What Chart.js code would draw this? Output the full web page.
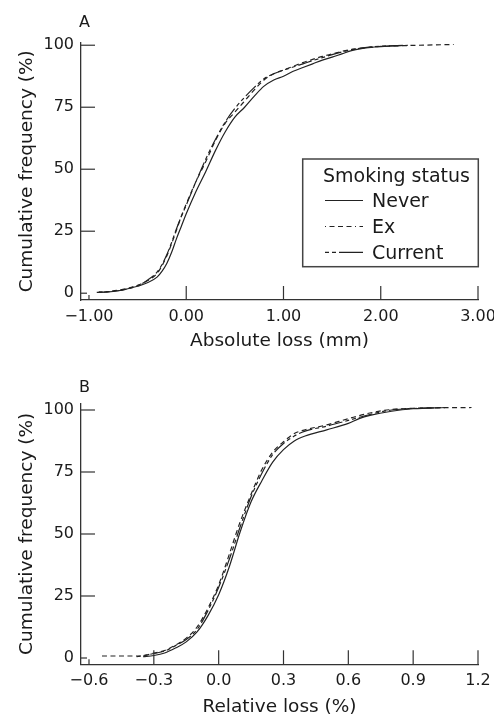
<!DOCTYPE html>
<html>
<head>
<meta charset="utf-8">
<script src="https://cdn.jsdelivr.net/npm/chart.js@4.4.0/dist/chart.umd.min.js"></script>
<style>
  html, body { margin: 0; padding: 0; background: #fff; overflow: hidden; }
  #wrap { position: relative; width: 494px; height: 716px; }
  canvas { position: absolute; left: 0; }
  #cA { top: 0; }
  #cB { top: 358px; }
</style>
</head>
<body>
<div id="wrap">
  <canvas id="cA" width="494" height="358"></canvas>
  <canvas id="cB" width="494" height="358"></canvas>
</div>
<script>
// ---------- DATA ----------
const seriesNames = ['Never', 'Ex', 'Current'];
const freqTicks = [0, 25, 50, 75, 100];
const absTicks = [-1, 0, 1, 2, 3];
const relTicks = [-0.6, -0.3, 0, 0.3, 0.6, 0.9, 1.2];

// Panel A: absolute loss (mm) vs cumulative frequency (%)
const absNeverX = [-0.92, -0.80, -0.70, -0.60, -0.50, -0.40, -0.30, -0.25, -0.20, -0.15, -0.10, -0.05, 0.00, 0.10, 0.20, 0.30, 0.40, 0.50, 0.60, 0.70, 0.80, 0.90, 1.00, 1.10, 1.20, 1.30, 1.40, 1.50, 1.60, 1.70, 1.80, 1.90, 2.00, 2.28];
const absNeverY = [0.3, 0.5, 1.0, 1.8, 2.8, 4.2, 6.5, 8.8, 12, 16.5, 22, 27, 32, 41, 49, 57.5, 65, 71, 75, 79.5, 83.5, 86, 87.5, 89.5, 91, 92.5, 94, 95.2, 96.5, 97.8, 98.6, 99.1, 99.4, 100];
const absExX = [-0.85, -0.70, -0.60, -0.50, -0.40, -0.30, -0.25, -0.20, -0.15, -0.10, -0.05, 0.00, 0.10, 0.20, 0.30, 0.40, 0.50, 0.60, 0.70, 0.80, 0.90, 1.00, 1.10, 1.20, 1.30, 1.40, 1.50, 1.60, 1.70, 1.80, 1.90, 2.00, 2.30, 2.75];
const absExY = [0.4, 1.2, 2.0, 3.2, 5.0, 8.0, 11, 15, 20, 25.5, 31, 36, 45, 53, 61.5, 68.5, 73, 77.5, 82, 86, 88.5, 90, 91.5, 93, 94.3, 95.5, 96.5, 97.5, 98.3, 98.8, 99.2, 99.5, 99.9, 100.3];
const absCurrentX = [-0.90, -0.80, -0.70, -0.60, -0.50, -0.40, -0.30, -0.25, -0.20, -0.15, -0.10, -0.05, 0.00, 0.10, 0.20, 0.30, 0.40, 0.50, 0.60, 0.70, 0.80, 0.90, 1.00, 1.10, 1.20, 1.30, 1.40, 1.50, 1.60, 1.70, 1.80, 1.90, 2.00, 2.25];
const absCurrentY = [0.5, 0.6, 1.0, 1.8, 3.0, 5.2, 8.5, 11.5, 15.5, 20.5, 26, 31, 35.5, 45, 54, 62, 69, 74.5, 79, 83, 86.5, 88.5, 90, 91.2, 92.5, 93.8, 95, 96.2, 97.3, 98.2, 98.8, 99.3, 99.6, 100];

// Panel B: relative loss (%) vs cumulative frequency (%)
const relNeverX = [-0.35, -0.30, -0.25, -0.20, -0.15, -0.10, -0.05, 0.00, 0.05, 0.10, 0.15, 0.20, 0.25, 0.30, 0.35, 0.40, 0.50, 0.60, 0.65, 0.70, 0.80, 0.90, 1.05];
const relNeverY = [0.5, 1.0, 2.0, 4.0, 6.5, 10.5, 17, 25.5, 37, 51, 63, 71.5, 79, 84, 87.5, 89.5, 92, 94.6, 96.5, 97.8, 99.5, 100.5, 101];
const relExX = [-0.54, -0.36, -0.30, -0.25, -0.20, -0.15, -0.10, -0.05, 0.00, 0.05, 0.08, 0.10, 0.15, 0.20, 0.25, 0.30, 0.35, 0.40, 0.50, 0.60, 0.70, 0.80, 0.90, 1.17];
const relExY = [0.8, 0.8, 2.0, 3.0, 5.2, 8.0, 12.5, 20, 29.5, 42, 50, 55, 66, 76, 83, 87.2, 90.5, 92, 94, 96.5, 98.8, 100.2, 100.7, 101];
const relCurrentX = [-0.38, -0.30, -0.25, -0.20, -0.15, -0.10, -0.05, 0.00, 0.05, 0.10, 0.15, 0.20, 0.25, 0.30, 0.35, 0.40, 0.50, 0.60, 0.70, 0.80, 0.90, 1.05];
const relCurrentY = [0.5, 1.8, 2.8, 5.0, 7.5, 11.5, 19, 28.5, 40, 53, 65, 74.5, 82, 86.5, 89.5, 91.5, 93.5, 95.8, 98.2, 100, 100.6, 101];

// ---------- STYLE ----------
const FONT = "'DejaVu Sans', sans-serif";
const INK = '#1a1a1a';
const AXIS = '#333';
const DASHES = { Never: [], Ex: [5, 3.5], Current: [4, 3, 4, 3, 14, 3] };
const LEGEND_DASHES = { Never: [], Ex: [1, 3.5, 5, 3.5, 5, 3.5, 5, 3.5], Current: [4, 3, 4, 3, 40, 3] };

function pts(xs, ys) { return xs.map((x, i) => ({ x: x, y: ys[i] })); }
function fmt(v, d) { return (v < 0 ? '\u2212' : '') + Math.abs(v).toFixed(d); }

function makeDatasets(list) {
  return list.map((s, i) => ({
    label: seriesNames[i],
    data: pts(s[0], s[1]),
    showLine: true,
    pointRadius: 0,
    borderColor: '#222',
    borderWidth: 1.2,
    borderDash: DASHES[seriesNames[i]],
    cubicInterpolationMode: 'monotone',
    fill: false
  }));
}

const panelPlugin = {
  id: 'panel',
  afterDraw(chart, args, opts) {
    const ctx = chart.ctx;
    const xs = chart.scales.x, ys = chart.scales.y;
    const area = chart.chartArea;
    ctx.save();
    // inward tick marks
    ctx.strokeStyle = AXIS;
    ctx.lineWidth = 1.2;
    xs.ticks.forEach((t, i) => {
      const px = xs.getPixelForValue(t.value);
      const len = i === 0 ? 5 : 14;
      ctx.beginPath(); ctx.moveTo(px, area.bottom); ctx.lineTo(px, area.bottom - len); ctx.stroke();
    });
    ys.ticks.forEach((t, i) => {
      const py = ys.getPixelForValue(t.value);
      const len = i === 0 ? 6 : 14;
      ctx.beginPath(); ctx.moveTo(area.left, py); ctx.lineTo(area.left + len, py); ctx.stroke();
    });
    // panel letter
    ctx.fillStyle = INK;
    ctx.font = '16px ' + FONT;
    ctx.textAlign = 'left';
    ctx.textBaseline = 'alphabetic';
    ctx.fillText(opts.letter, opts.letterX, opts.letterY);
    // legend
    if (opts.legend) {
      const L = opts.legend;
      ctx.fillStyle = '#fff';
      ctx.fillRect(L.x, L.y, L.w, L.h);
      ctx.strokeStyle = '#444';
      ctx.lineWidth = 1.5;
      ctx.strokeRect(L.x, L.y, L.w, L.h);
      ctx.fillStyle = INK;
      ctx.font = '19px ' + FONT;
      ctx.fillText('Smoking status', L.titleX, L.titleY);
      chart.data.datasets.forEach((ds, i) => {
        const cy = L.rows[i];
        ctx.strokeStyle = '#222';
        ctx.lineWidth = 1.2;
        ctx.setLineDash(LEGEND_DASHES[ds.label]);
        ctx.beginPath(); ctx.moveTo(L.lineX0, cy); ctx.lineTo(L.lineX1, cy); ctx.stroke();
        ctx.setLineDash([]);
        ctx.fillText(ds.label, L.textX, cy + 6.9);
      });
    }
    ctx.restore();
  }
};

function makeChart(canvasId, cfg) {
  return new Chart(document.getElementById(canvasId), {
    type: 'scatter',
    data: { datasets: cfg.datasets },
    plugins: [panelPlugin],
    options: {
      responsive: false,
      animation: false,
      events: [],
      layout: { padding: { top: cfg.padTop, right: 16, bottom: 0, left: 0 } },
      plugins: {
        legend: { display: false },
        tooltip: { enabled: false },
        title: { display: false },
        panel: cfg.panel
      },
      scales: {
        x: {
          type: 'linear',
          min: cfg.xMin, max: cfg.xMax,
          afterBuildTicks: s => { s.ticks = cfg.xTicks.map(v => ({ value: v })); },
          afterFit: s => { s.height = cfg.xHeight; s.paddingLeft = 0; s.paddingRight = 0; },
          ticks: { callback: v => fmt(v, cfg.xDec), font: { family: FONT, size: 16 }, color: INK, padding: 7, maxRotation: 0, autoSkip: false },
          grid: { display: false, drawTicks: false },
          border: { display: true, color: AXIS, width: 1.3 },
          title: { display: true, text: cfg.xTitle, color: INK, font: { family: FONT, size: 18.5, lineHeight: 1 }, padding: { top: 0, bottom: cfg.xTitlePad } }
        },
        y: {
          type: 'linear',
          min: cfg.yMin, max: cfg.yMax,
          afterBuildTicks: s => { s.ticks = freqTicks.map(v => ({ value: v })); },
          afterFit: s => { s.width = 81; s.paddingTop = 0; s.paddingBottom = 0; },
          ticks: { callback: v => String(v), font: { family: FONT, size: 16 }, color: INK, padding: 7, autoSkip: false },
          grid: { display: false, drawTicks: false },
          border: { display: true, color: AXIS, width: 1.3 },
          title: { display: true, text: 'Cumulative frequency (%)', color: INK, font: { family: FONT, size: 18.5, lineHeight: 1 }, padding: { top: 18, bottom: 0 } }
        }
      }
    }
  });
}

makeChart('cA', {
  datasets: makeDatasets([[absNeverX, absNeverY], [absExX, absExY], [absCurrentX, absCurrentY]]),
  padTop: 42.5,
  xMin: -1.082, xMax: 3.0, xTicks: absTicks, xDec: 2, xHeight: 58,
  xTitle: 'Absolute loss (mm)', xTitlePad: 8,
  yMin: -2.74, yMax: 101.1,
  panel: {
    letter: 'A', letterX: 79, letterY: 26.7,
    legend: { x: 302.7, y: 159, w: 175.6, h: 107.7, titleX: 323, titleY: 182,
              rows: [200.5, 226.5, 252.3], lineX0: 325, lineX1: 363, textX: 372 }
  }
});

makeChart('cB', {
  datasets: makeDatasets([[relNeverX, relNeverY], [relExX, relExY], [relCurrentX, relCurrentY]]),
  padTop: 45.3,
  xMin: -0.637, xMax: 1.2, xTicks: relTicks, xDec: 1, xHeight: 51.7,
  xTitle: 'Relative loss (%)', xTitlePad: 0,
  yMin: -2.54, yMax: 102.7,
  panel: { letter: 'B', letterX: 79, letterY: 33.7, legend: null }
});
</script>
</body>
</html>
